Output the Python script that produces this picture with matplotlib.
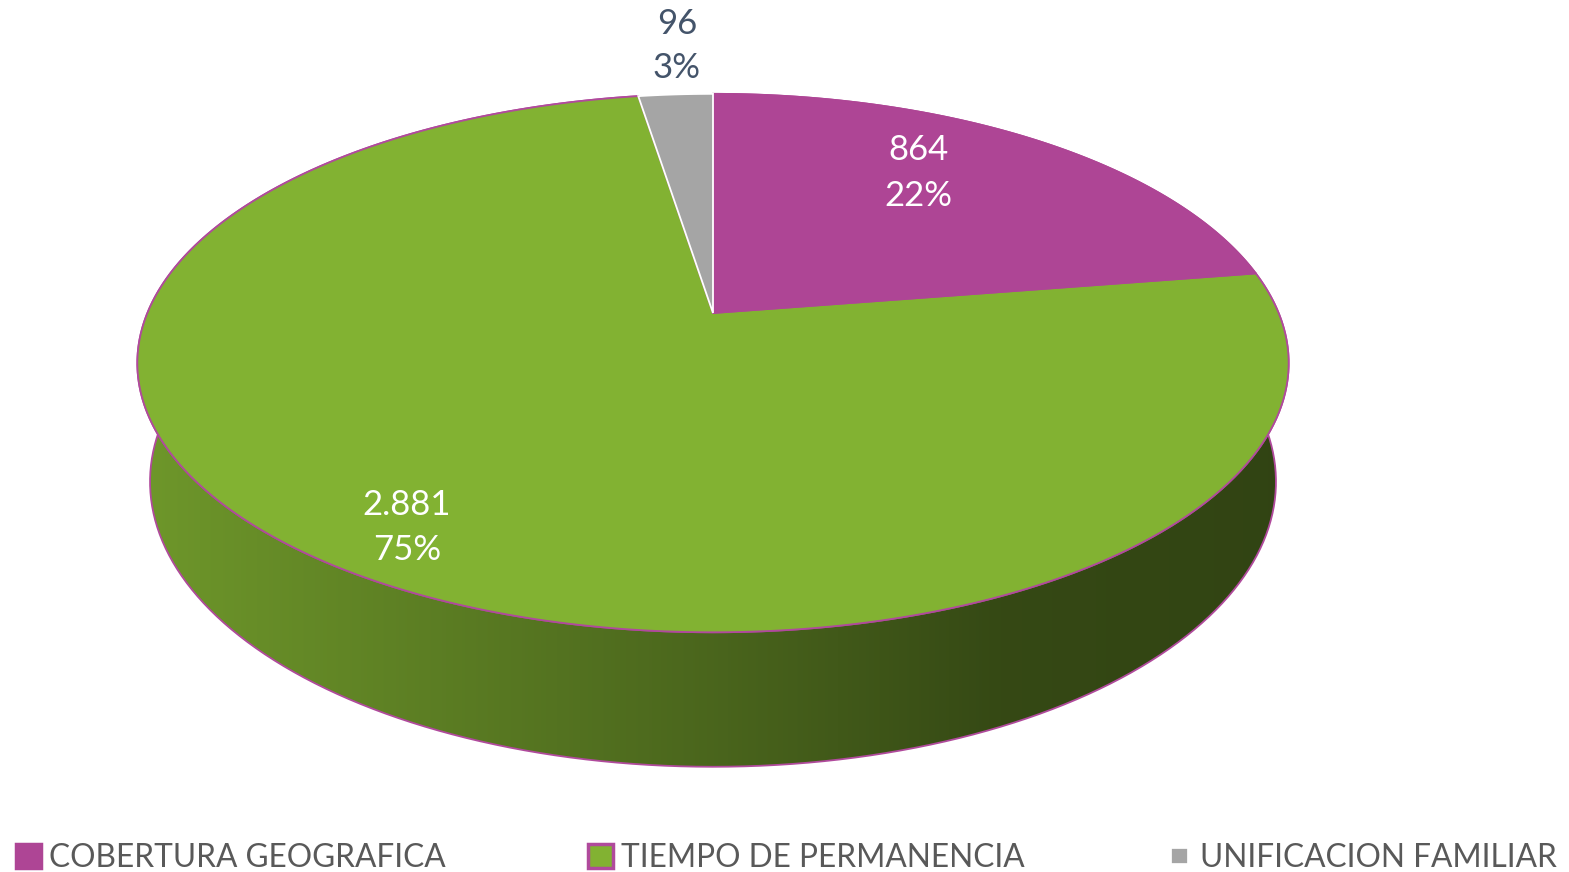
import numpy as np
import matplotlib.pyplot as plt
from matplotlib.patches import Polygon, Patch
from matplotlib.colors import to_rgb

# datos
categorias = ["COBERTURA GEOGRAFICA", "TIEMPO DE PERMANENCIA", "UNIFICACION FAMILIAR"]
valores = [864, 2881, 96]
porcentajes = ["22%", "75%", "3%"]
colores = ["#AE4595", "#82B232", "#A5A5A5"]
bordes = ["#AE4595", "#B04A9C", "#FFFFFF"]

W, H = 1569, 872
fig = plt.figure(figsize=(W / 100, H / 100), dpi=100)
ax = fig.add_axes([0, 0, 1, 1])
plt.rcParams['font.family'] = ['Lato', 'DejaVu Sans']

# vista 3D en perspectiva (tipo Excel)
CX, CY = 713, 313
FX, FY = 2715, 2767
ANG = np.radians(26.8)
D0 = 4.80
ALTO = 0.232


def proyectar(theta, r, z):
    t = np.radians(theta)
    X = r * np.sin(t)
    Y = r * np.cos(t)
    v = Y * np.sin(ANG) + z * np.cos(ANG)
    w = D0 + Y * np.cos(ANG) - z * np.sin(ANG)
    return CX + FX * X / w, CY - FY * v / w


total = sum(valores)
limites = np.concatenate([[0], np.cumsum(valores) / total * 360])

# degradado del lateral
xs = np.linspace(0, W, 400)
factor = np.interp(xs, [137, 713, 1000, 1289], [0.85, 0.57, 0.41, 0.38])

orden = sorted(range(len(valores)), key=lambda i: -np.cos(np.radians((limites[i] + limites[i + 1]) / 2)))
for i in orden:
    th = np.linspace(limites[i], limites[i + 1], 200)
    xt, yt = proyectar(th, 1, 0)
    xb, yb = proyectar(th[::-1], 1, -ALTO)
    pts = np.column_stack([np.concatenate([xt, xb]), np.concatenate([yt, yb])])
    poly = Polygon(pts, closed=True, facecolor="none", edgecolor=bordes[i], lw=1.3, zorder=2)
    ax.add_patch(poly)
    base = np.array(to_rgb(colores[i]))
    img = (factor[:, None] * base[None, :])[None, :, :].repeat(2, axis=0)
    im = ax.imshow(img, extent=(0, W, H, 0), aspect="auto", zorder=1, interpolation="bilinear")
    im.set_clip_path(poly)

# cara superior
for i in [1, 0, 2]:
    th = np.linspace(limites[i], limites[i + 1], 300)
    xt, yt = proyectar(th, 1, 0)
    pts = np.column_stack([np.concatenate([[CX], xt]), np.concatenate([[CY], yt])])
    ax.add_patch(Polygon(pts, closed=True, facecolor=colores[i], edgecolor=bordes[i], lw=1.3, zorder=3))

# etiquetas
def miles(v):
    return f"{v:,}".replace(",", ".")

pos_etiquetas = [(918, 173), (407, 527), (677, 46)]
color_texto = ["white", "white", "#44546A"]
for i in range(len(valores)):
    ax.text(pos_etiquetas[i][0], pos_etiquetas[i][1], miles(valores[i]) + "\n" + porcentajes[i],
            ha="center", va="center", fontsize=25, color=color_texto[i], linespacing=1.5, zorder=5)

# leyenda
grosor = [2.5, 2.5, 7]
handles = [Patch(facecolor=colores[i], edgecolor=bordes[i], lw=grosor[i]) for i in range(len(valores))]
leg = ax.legend(handles, categorias, loc="center", bbox_to_anchor=(0.5013, (H - 858) / H), ncol=3,
                frameon=False, fontsize=22.8, handlelength=0.79, handleheight=0.79,
                handletextpad=0.25, columnspacing=4.5, borderaxespad=0)
for t in leg.get_texts():
    t.set_color("#595959")

ax.set_xlim(0, W)
ax.set_ylim(H, 0)
ax.axis("off")
fig.savefig("out.png", dpi=100)
